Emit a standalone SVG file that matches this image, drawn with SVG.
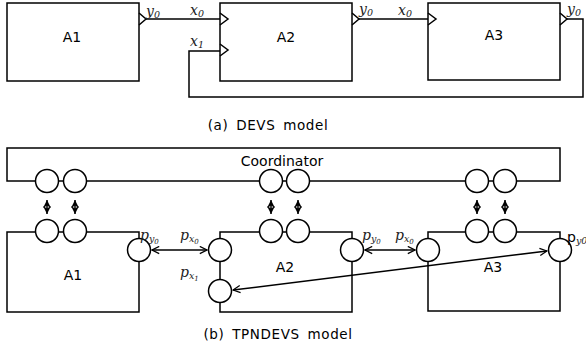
<svg xmlns="http://www.w3.org/2000/svg" width="586" height="347" viewBox="0 0 586 347">
<defs>
<style>
.box{fill:#fff;stroke:#000;stroke-width:1.5}
.ln{fill:none;stroke:#000;stroke-width:1.5}
.port{fill:#fff;stroke:#000;stroke-width:1.5}
.t{font-family:"DejaVu Sans",sans-serif;font-size:14px;fill:#000}
.cap{font-family:"DejaVu Sans",sans-serif;font-size:13.5px;letter-spacing:0.6px;word-spacing:3px;fill:#000}
.m{font-family:"DejaVu Serif","Liberation Serif",serif;font-style:italic;font-size:14px;fill:#222}
.s{font-size:9.5px}
.ss{font-size:7px}
</style>
<marker id="oa" viewBox="0 0 10 10" refX="9" refY="5" markerWidth="9" markerHeight="9" markerUnits="userSpaceOnUse" orient="auto-start-reverse"><path d="M1,1 L9,5 L1,9" fill="none" stroke="#000" stroke-width="1.4"/></marker>
<marker id="va" viewBox="0 0 10 10" refX="10" refY="5" markerWidth="8" markerHeight="8" markerUnits="userSpaceOnUse" orient="auto-start-reverse"><path d="M0,0 L10,5 L0,10 L3,5 Z" fill="#000"/></marker>
</defs>

<!-- (a) DEVS model -->
<g id="devs-connectors">
<line class="ln" x1="146" y1="19" x2="220" y2="19"/>
<line class="ln" x1="359" y1="19" x2="428" y2="19"/>
<polyline class="ln" points="567,19 583,19 583,97 189,97 189,51 220,51"/>
</g>
<g id="a1">
<rect class="box" x="7" y="3" width="132" height="78"/>
<polyline class="ln" points="139,13 146,19 139,25"/>
<text class="t" x="72" y="42" text-anchor="middle">A1</text>
<text class="m" x="146" y="16">y<tspan class="s" dy="2">0</tspan></text>
</g>
<g id="a2">
<rect class="box" x="220" y="3" width="132" height="78"/>
<polyline class="ln" points="220,13 228,19 220,25"/>
<polyline class="ln" points="220,44 228,50 220,56"/>
<polyline class="ln" points="352,13 359,19 352,25"/>
<text class="t" x="286" y="42" text-anchor="middle">A2</text>
<text class="m" x="190" y="15">x<tspan class="s" dy="2">0</tspan></text>
<text class="m" x="190" y="46">x<tspan class="s" dy="2">1</tspan></text>
<text class="m" x="359" y="14">y<tspan class="s" dy="2">0</tspan></text>
</g>
<g id="a3">
<rect class="box" x="428" y="3" width="132" height="77"/>
<polyline class="ln" points="428,13 436,19 428,25"/>
<polyline class="ln" points="560,13 567,19 560,25"/>
<text class="t" x="494" y="40" text-anchor="middle">A3</text>
<text class="m" x="398" y="15">x<tspan class="s" dy="2">0</tspan></text>
<text class="m" x="567" y="14">y<tspan class="s" dy="2">0</tspan></text>
</g>
<text class="cap" x="268" y="130" text-anchor="middle">(a) DEVS model</text>

<!-- (b) TPNDEVS model -->
<g id="coordinator">
<rect class="box" x="7" y="148" width="553" height="33"/>
<text class="t" x="282" y="166" text-anchor="middle">Coordinator</text>
<circle class="port" cx="47" cy="181" r="11.5"/>
<circle class="port" cx="75" cy="181" r="11.5"/>
<circle class="port" cx="271" cy="181" r="11.5"/>
<circle class="port" cx="298" cy="181" r="11.5"/>
<circle class="port" cx="477" cy="181" r="11.5"/>
<circle class="port" cx="505" cy="181" r="11.5"/>
</g>
<g id="b1">
<rect class="box" x="7" y="232" width="132" height="80"/>
<circle class="port" cx="47" cy="231" r="11.5"/>
<circle class="port" cx="75" cy="231" r="11.5"/>
<circle class="port" cx="139" cy="250" r="11.5"/>
<text class="t" x="73" y="280" text-anchor="middle">A1</text>
<text class="m" x="140" y="240">p<tspan class="s" dy="2">y</tspan><tspan class="ss" dy="2">0</tspan></text>
</g>
<g id="b2">
<rect class="box" x="220" y="232" width="132" height="80"/>
<circle class="port" cx="271" cy="231" r="11.5"/>
<circle class="port" cx="298" cy="231" r="11.5"/>
<circle class="port" cx="220" cy="250" r="11.5"/>
<circle class="port" cx="220" cy="291" r="11.5"/>
<circle class="port" cx="352" cy="250" r="11.5"/>
<text class="t" x="285" y="272" text-anchor="middle">A2</text>
<text class="m" x="180" y="240">p<tspan class="s" dy="2">x</tspan><tspan class="ss" dy="2">0</tspan></text>
<text class="m" x="180" y="277">p<tspan class="s" dy="2">x</tspan><tspan class="ss" dy="2">1</tspan></text>
<text class="m" x="362" y="240">p<tspan class="s" dy="2">y</tspan><tspan class="ss" dy="2">0</tspan></text>
</g>
<g id="b3">
<rect class="box" x="428" y="232" width="132" height="79"/>
<circle class="port" cx="477" cy="231" r="11.5"/>
<circle class="port" cx="505" cy="231" r="11.5"/>
<circle class="port" cx="428" cy="250" r="11.5"/>
<circle class="port" cx="560" cy="250" r="11.5"/>
<text class="t" x="493" y="272" text-anchor="middle">A3</text>
<text class="m" x="395" y="240">p<tspan class="s" dy="2">x</tspan><tspan class="ss" dy="2">0</tspan></text>
<text class="t" x="567" y="242">p<tspan class="m s" dy="2">y0</tspan></text>
</g>
<g id="tpn-connectors">
<line class="ln" x1="152" y1="250" x2="207" y2="250" marker-start="url(#oa)" marker-end="url(#oa)"/>
<line class="ln" x1="365" y1="250" x2="415" y2="250" marker-start="url(#oa)" marker-end="url(#oa)"/>
<line class="ln" x1="233" y1="290" x2="547" y2="251" marker-start="url(#oa)" marker-end="url(#oa)"/>
<g class="ln" stroke-width="2">
<line x1="47" y1="200" x2="47" y2="214" marker-start="url(#va)" marker-end="url(#va)"/>
<line x1="75" y1="200" x2="75" y2="214" marker-start="url(#va)" marker-end="url(#va)"/>
<line x1="271" y1="200" x2="271" y2="214" marker-start="url(#va)" marker-end="url(#va)"/>
<line x1="298" y1="200" x2="298" y2="214" marker-start="url(#va)" marker-end="url(#va)"/>
<line x1="477" y1="200" x2="477" y2="214" marker-start="url(#va)" marker-end="url(#va)"/>
<line x1="505" y1="200" x2="505" y2="214" marker-start="url(#va)" marker-end="url(#va)"/>
</g>
</g>
<text class="cap" x="278" y="339" text-anchor="middle">(b) TPNDEVS model</text>
</svg>
